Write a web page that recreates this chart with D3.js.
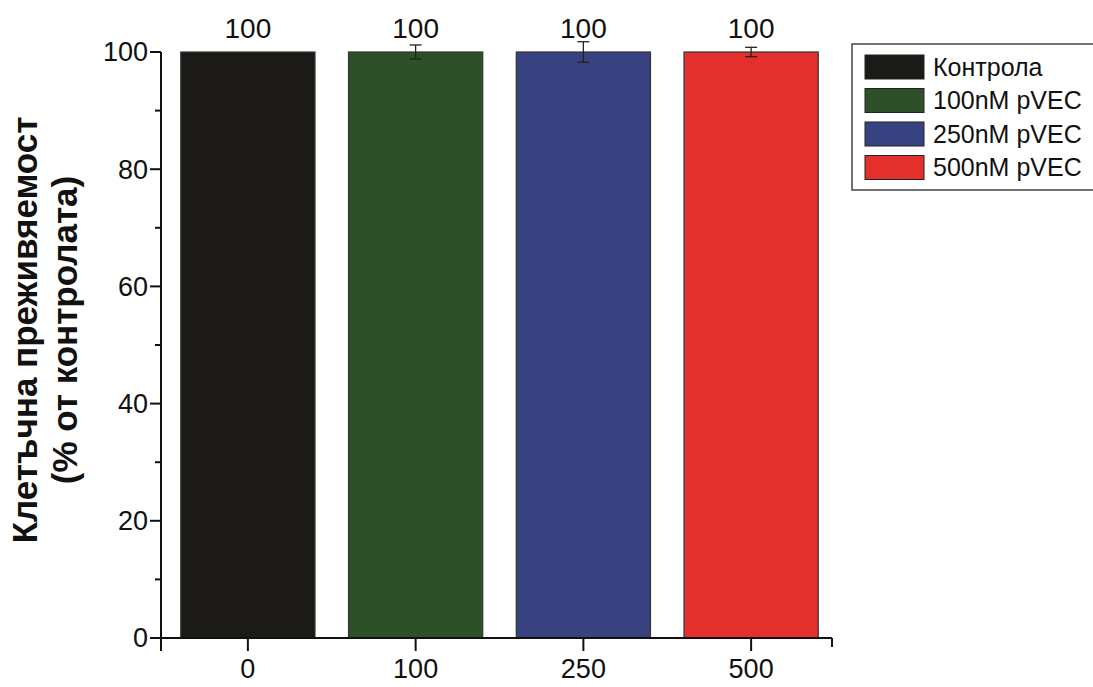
<!DOCTYPE html>
<html>
<head>
<meta charset="utf-8">
<script src="https://cdn.jsdelivr.net/npm/d3@7/dist/d3.min.js"></script>
<style>
  body { margin: 0; background: #fff; }
  svg { font-family: "Liberation Sans", Arial, sans-serif; }
</style>
</head>
<body>
<svg id="chart" width="1093" height="687"></svg>
<script>
// Cell viability relative to control for increasing pVEC concentrations
const categories = ["0", "100", "250", "500"];
const values = [100, 100, 100, 100];
const errors = [0, 1.2, 1.75, 0.8];
const seriesNames = ["Контрола", "100nM pVEC", "250nM pVEC", "500nM pVEC"];
const colors = ["#1c1a17", "#2d5029", "#394280", "#e3302d"];
const yTicks = [0, 20, 40, 60, 80, 100];
const yMinorTicks = [10, 30, 50, 70, 90];

const svg = d3.select("#chart");

const x = d3.scaleBand().domain(categories).range([164, 835])
  .paddingInner(0.2).paddingOuter(0.1);
const y = d3.scaleLinear().domain([0, 100]).range([638, 52]);

const axisLeft = 161, axisRight = 832, axisBottom = 638;

// Bars
svg.append("g").selectAll("rect").data(categories).join("rect")
  .attr("x", d => x(d))
  .attr("y", (d, i) => y(values[i]))
  .attr("width", x.bandwidth())
  .attr("height", (d, i) => y(0) - y(values[i]))
  .attr("fill", (d, i) => colors[i])
  .attr("stroke", "#333")
  .attr("stroke-width", 1.2);

// Error bars
const eb = svg.append("g").attr("stroke", "#222").attr("stroke-width", 1.3);
categories.forEach((c, i) => {
  if (!errors[i]) return;
  const cx = x(c) + x.bandwidth() / 2;
  const y1 = y(values[i] + errors[i]), y2 = y(values[i] - errors[i]);
  eb.append("line").attr("x1", cx).attr("x2", cx).attr("y1", y1).attr("y2", y2);
  eb.append("line").attr("x1", cx - 6).attr("x2", cx + 6).attr("y1", y1).attr("y2", y1);
  eb.append("line").attr("x1", cx - 6).attr("x2", cx + 6).attr("y1", y2).attr("y2", y2);
});

// Value labels
svg.append("g").selectAll("text").data(categories).join("text")
  .attr("x", d => x(d) + x.bandwidth() / 2)
  .attr("y", 38)
  .attr("text-anchor", "middle")
  .attr("font-size", 28)
  .attr("fill", "#111")
  .text((d, i) => values[i]);

// Y axis
const yAxis = svg.append("g").attr("stroke", "#111").attr("stroke-width", 2);
yAxis.append("line").attr("x1", axisLeft).attr("x2", axisLeft)
  .attr("y1", y(100)).attr("y2", axisBottom + 13);
yTicks.forEach(t => {
  yAxis.append("line").attr("x1", axisLeft - 11).attr("x2", axisLeft)
    .attr("y1", y(t)).attr("y2", y(t));
});
yMinorTicks.forEach(t => {
  yAxis.append("line").attr("x1", axisLeft - 6).attr("x2", axisLeft)
    .attr("y1", y(t)).attr("y2", y(t));
});
svg.append("g").selectAll("text").data(yTicks).join("text")
  .attr("x", axisLeft - 13)
  .attr("y", d => y(d))
  .attr("dy", "0.35em")
  .attr("text-anchor", "end")
  .attr("font-size", 27)
  .attr("fill", "#111")
  .text(d => d);

// X axis
const xAxis = svg.append("g").attr("stroke", "#111").attr("stroke-width", 2);
xAxis.append("line").attr("x1", axisLeft).attr("x2", axisRight)
  .attr("y1", axisBottom).attr("y2", axisBottom);
xAxis.append("line").attr("x1", axisRight).attr("x2", axisRight)
  .attr("y1", axisBottom).attr("y2", axisBottom + 9);
categories.forEach(c => {
  const cx = x(c) + x.bandwidth() / 2;
  xAxis.append("line").attr("x1", cx).attr("x2", cx)
    .attr("y1", axisBottom).attr("y2", axisBottom + 13);
});
svg.append("g").selectAll("text").data(categories).join("text")
  .attr("x", d => x(d) + x.bandwidth() / 2)
  .attr("y", 678)
  .attr("text-anchor", "middle")
  .attr("font-size", 27)
  .attr("fill", "#111")
  .text(d => d);

// Y axis title
const title = svg.append("text")
  .attr("transform", "translate(0,330) rotate(-90)")
  .attr("text-anchor", "middle")
  .attr("font-size", 35)
  .attr("font-weight", "bold")
  .attr("fill", "#111");
title.append("tspan").attr("x", 0).attr("y", 37).text("Клетъчна преживяемост");
title.append("tspan").attr("x", 0).attr("y", 77).text("(% от контролата)");

// Legend
const legend = svg.append("g");
legend.append("rect").attr("x", 852).attr("y", 44).attr("width", 260).attr("height", 146)
  .attr("fill", "#fff").attr("stroke", "#444").attr("stroke-width", 1.5);
seriesNames.forEach((name, i) => {
  const cy = 67 + i * 33.5;
  legend.append("rect").attr("x", 865).attr("y", cy - 12).attr("width", 59).attr("height", 24)
    .attr("fill", colors[i]).attr("stroke", "#222").attr("stroke-width", 1);
  legend.append("text").attr("x", 933).attr("y", cy).attr("dy", "0.35em")
    .attr("font-size", 25).attr("fill", "#111").text(name);
});
</script>
</body>
</html>
